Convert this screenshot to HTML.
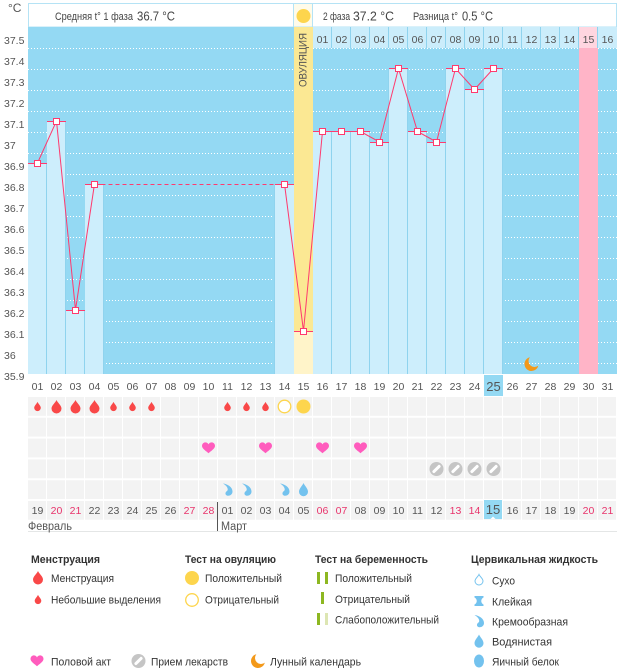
<!DOCTYPE html>
<html>
<head>
<meta charset="utf-8">
<style>
html,body{margin:0;padding:0;background:#fff;}
svg{display:block;}
</style>
</head>
<body>
<svg width="626" height="668" viewBox="0 0 626 668" xmlns="http://www.w3.org/2000/svg" xmlns:xlink="http://www.w3.org/1999/xlink" font-family="'Liberation Sans', 'DejaVu Sans', sans-serif">
<defs>
  <pattern id="cells" x="28" y="397" width="19" height="20.8" patternUnits="userSpaceOnUse">
    <rect x="0" y="0" width="18" height="18.8" fill="#f3f3f3"/>
  </pattern>
  <g id="dropB"><path d="M0,-6.5 C1,-4 5,-1 5,2 A5 5 0 0 1 -5,2 C-5,-1 -1,-4 0,-6.5Z" fill="#f94848"/></g>
  <g id="dropS"><path d="M0,-4.6 C0.7,-2.8 3.3,-0.8 3.3,1.3 A3.3 3.3 0 0 1 -3.3,1.3 C-3.3,-0.8 -0.7,-2.8 0,-4.6Z" fill="#f94848"/></g>
  <g id="heart"><path d="M0,5.2 C-2,3.4 -6.5,0.6 -6.5,-2 C-6.5,-4.5 -4.6,-5.6 -3.2,-5.6 C-1.8,-5.6 -0.6,-4.8 0,-3.6 C0.6,-4.8 1.8,-5.6 3.2,-5.6 C4.6,-5.6 6.5,-4.5 6.5,-2 C6.5,0.6 2,3.4 0,5.2Z" fill="#ff5cbd"/></g>
  <g id="pill"><circle cx="0" cy="0" r="7" fill="#c5c5c5"/><line x1="-2.6" y1="2.6" x2="2.6" y2="-2.6" stroke="#fff" stroke-width="3" stroke-linecap="round"/></g>
  <g id="cream"><path d="M-4.5,-6 C0,-5.5 5,-2.5 5,2 C5,5 2.5,6.5 0,6.2 C-2.8,5.8 -2.5,2.5 -0.5,1.5 C1,0.5 0.5,-3 -4.5,-6Z" fill="#73c2ee"/></g>
  <g id="water"><path d="M0,-6.5 C1,-4 4.5,-1 4.5,2.2 A4.5 4.5 0 0 1 -4.5,2.2 C-4.5,-1 -1,-4 0,-6.5Z" fill="#73c2ee"/></g>
  <g id="moon"><path d="M-1.639,-6.806 A7 7 0 1 0 6.806,1.639 A6 6 0 0 1 -1.639,-6.806Z" fill="#f3991a"/></g>
</defs>

<!-- top-left unit -->
<text x="8" y="12" font-size="12" fill="#555">°C</text>

<!-- header boxes -->
<rect x="28.5" y="3.5" width="265" height="23.5" fill="#fff" stroke="#b5e3f5"/>
<rect x="293.5" y="3.5" width="19" height="23.5" fill="#fffbea" stroke="#b5e3f5"/>
<rect x="312.5" y="3.5" width="304" height="23.5" fill="#fff" stroke="#b5e3f5"/>
<circle cx="303.5" cy="16" r="7" fill="#fdd54d"/>
<text x="55" y="20" font-size="11" fill="#444" textLength="78" lengthAdjust="spacingAndGlyphs">Средняя t° 1 фаза</text>
<text x="137" y="20.5" font-size="13" fill="#444" textLength="38" lengthAdjust="spacingAndGlyphs">36.7 °C</text>
<text x="323" y="20" font-size="11" fill="#444" textLength="27" lengthAdjust="spacingAndGlyphs">2 фаза</text>
<text x="353" y="20.5" font-size="13" fill="#444" textLength="41" lengthAdjust="spacingAndGlyphs">37.2 °C</text>
<text x="413" y="20" font-size="11" fill="#444" textLength="45" lengthAdjust="spacingAndGlyphs">Разница t°</text>
<text x="462" y="20.5" font-size="13" fill="#444" textLength="31" lengthAdjust="spacingAndGlyphs">0.5 °C</text>

<!-- chart background -->
<rect x="28" y="27" width="589" height="347" fill="#94d9f3"/>

<!-- gridlines -->
<g stroke="#ffffff" stroke-width="1" stroke-dasharray="1 2">
  <line x1="28" y1="48.5" x2="617" y2="48.5"/>
  <line x1="28" y1="69.5" x2="617" y2="69.5"/>
  <line x1="28" y1="90.5" x2="617" y2="90.5"/>
  <line x1="28" y1="111.5" x2="617" y2="111.5"/>
  <line x1="28" y1="132.5" x2="617" y2="132.5"/>
  <line x1="28" y1="153.5" x2="617" y2="153.5"/>
  <line x1="28" y1="174.5" x2="617" y2="174.5"/>
  <line x1="28" y1="195.5" x2="617" y2="195.5"/>
  <line x1="28" y1="216.5" x2="617" y2="216.5"/>
  <line x1="28" y1="237.5" x2="617" y2="237.5"/>
  <line x1="28" y1="258.5" x2="617" y2="258.5"/>
  <line x1="28" y1="279.5" x2="617" y2="279.5"/>
  <line x1="28" y1="300.5" x2="617" y2="300.5"/>
  <line x1="28" y1="321.5" x2="617" y2="321.5"/>
  <line x1="28" y1="342.5" x2="617" y2="342.5"/>
  <line x1="28" y1="363.5" x2="617" y2="363.5"/>
</g>

<!-- header row cells for second phase -->
<rect x="313" y="27" width="304" height="21" fill="#cbedfb"/>
<rect x="579" y="27" width="19" height="21" fill="#ffd6e0"/>
<g stroke="#8fd3ee" stroke-width="1">
  <line x1="312.5" y1="27" x2="312.5" y2="48"/>
  <line x1="331.5" y1="27" x2="331.5" y2="48"/>
  <line x1="350.5" y1="27" x2="350.5" y2="48"/>
  <line x1="369.5" y1="27" x2="369.5" y2="48"/>
  <line x1="388.5" y1="27" x2="388.5" y2="48"/>
  <line x1="407.5" y1="27" x2="407.5" y2="48"/>
  <line x1="426.5" y1="27" x2="426.5" y2="48"/>
  <line x1="445.5" y1="27" x2="445.5" y2="48"/>
  <line x1="464.5" y1="27" x2="464.5" y2="48"/>
  <line x1="483.5" y1="27" x2="483.5" y2="48"/>
  <line x1="502.5" y1="27" x2="502.5" y2="48"/>
  <line x1="521.5" y1="27" x2="521.5" y2="48"/>
  <line x1="540.5" y1="27" x2="540.5" y2="48"/>
  <line x1="559.5" y1="27" x2="559.5" y2="48"/>
  <line x1="578.5" y1="27" x2="578.5" y2="48"/>
  <line x1="597.5" y1="27" x2="597.5" y2="48"/>
</g>

<!-- pink column -->
<rect x="579" y="48" width="19" height="326" fill="#ffb4c7"/>

<!-- bars -->
<g fill="#cdeefc">
  <rect x="28" y="163" width="19" height="211"/>
  <rect x="47" y="121" width="19" height="253"/>
  <rect x="66" y="310" width="19" height="64"/>
  <rect x="85" y="184" width="19" height="190"/>
  <rect x="275" y="184" width="19" height="190"/>
  <rect x="313" y="131.5" width="19" height="242.5"/>
  <rect x="332" y="131.5" width="19" height="242.5"/>
  <rect x="351" y="131.5" width="19" height="242.5"/>
  <rect x="370" y="142" width="19" height="232"/>
  <rect x="389" y="68.5" width="19" height="305.5"/>
  <rect x="408" y="131.5" width="19" height="242.5"/>
  <rect x="427" y="142" width="19" height="232"/>
  <rect x="446" y="68.5" width="19" height="305.5"/>
  <rect x="465" y="89.5" width="19" height="284.5"/>
  <rect x="484" y="68.5" width="19" height="305.5"/>
</g>
<g stroke="#8fd3ee" stroke-width="1">
  <line x1="46.5" y1="163" x2="46.5" y2="374"/>
  <line x1="65.5" y1="121" x2="65.5" y2="374"/>
  <line x1="84.5" y1="310" x2="84.5" y2="374"/>
  <line x1="103.5" y1="184" x2="103.5" y2="374"/>
  <line x1="274.5" y1="184" x2="274.5" y2="374"/>
  <line x1="312.5" y1="48" x2="312.5" y2="374"/>
  <line x1="331.5" y1="131.5" x2="331.5" y2="374"/>
  <line x1="350.5" y1="131.5" x2="350.5" y2="374"/>
  <line x1="369.5" y1="131.5" x2="369.5" y2="374"/>
  <line x1="388.5" y1="68.5" x2="388.5" y2="374"/>
  <line x1="407.5" y1="68.5" x2="407.5" y2="374"/>
  <line x1="426.5" y1="131.5" x2="426.5" y2="374"/>
  <line x1="445.5" y1="68.5" x2="445.5" y2="374"/>
  <line x1="464.5" y1="68.5" x2="464.5" y2="374"/>
  <line x1="483.5" y1="68.5" x2="483.5" y2="374"/>
  <line x1="502.5" y1="68.5" x2="502.5" y2="374"/>
</g>

<!-- ovulation column -->
<rect x="294" y="27" width="19" height="304" fill="#fbe893"/>
<rect x="294" y="331" width="19" height="43" fill="#fff4c9"/>
<text transform="translate(306.5,60) rotate(-90)" text-anchor="middle" font-size="11" fill="#555" textLength="54" lengthAdjust="spacingAndGlyphs">ОВУЛЯЦИЯ</text>

<!-- top cycle day numbers -->
<g font-size="10.5" fill="#555" text-anchor="middle">
  <text x="322.5" y="43">01</text><text x="341.5" y="43">02</text><text x="360.5" y="43">03</text><text x="379.5" y="43">04</text>
  <text x="398.5" y="43">05</text><text x="417.5" y="43">06</text><text x="436.5" y="43">07</text><text x="455.5" y="43">08</text>
  <text x="474.5" y="43">09</text><text x="493.5" y="43">10</text><text x="512.5" y="43">11</text><text x="531.5" y="43">12</text>
  <text x="550.5" y="43">13</text><text x="569.5" y="43">14</text><text x="588.5" y="43">15</text><text x="607.5" y="43">16</text>
</g>

<!-- temperature line -->
<g stroke="#ff3a6e" stroke-width="1" fill="none">
  <polyline points="37.5,163 56.5,121 75.5,310 94.5,184"/>
  <line x1="94.5" y1="184.5" x2="284.5" y2="184.5" stroke-dasharray="4 3"/>
  <polyline points="284.5,184 303.5,331 322.5,131.5 341.5,131.5 360.5,131.5 379.5,142 398.5,68.5 417.5,131.5 436.5,142 455.5,68.5 474.5,89.5 493.5,68.5"/>
  <line x1="28" y1="163.5" x2="47" y2="163.5"/>
  <line x1="47" y1="121.5" x2="66" y2="121.5"/>
  <line x1="66" y1="310.5" x2="85" y2="310.5"/>
  <line x1="85" y1="184.5" x2="104" y2="184.5"/>
  <line x1="275" y1="184.5" x2="294" y2="184.5"/>
  <line x1="294" y1="331.5" x2="313" y2="331.5"/>
  <line x1="313" y1="131.5" x2="370" y2="131.5"/>
  <line x1="370" y1="142.5" x2="389" y2="142.5"/>
  <line x1="389" y1="68.5" x2="408" y2="68.5"/>
  <line x1="408" y1="131.5" x2="427" y2="131.5"/>
  <line x1="427" y1="142.5" x2="446" y2="142.5"/>
  <line x1="446" y1="68.5" x2="465" y2="68.5"/>
  <line x1="465" y1="89.5" x2="484" y2="89.5"/>
  <line x1="484" y1="68.5" x2="503" y2="68.5"/>
</g>
<g fill="#fff" stroke="#ff3a6e" stroke-width="1">
  <rect x="34.5" y="160.5" width="6" height="6"/>
  <rect x="53.5" y="118.5" width="6" height="6"/>
  <rect x="72.5" y="307.5" width="6" height="6"/>
  <rect x="91.5" y="181.5" width="6" height="6"/>
  <rect x="281.5" y="181.5" width="6" height="6"/>
  <rect x="300.5" y="328.5" width="6" height="6"/>
  <rect x="319.5" y="128.5" width="6" height="6"/>
  <rect x="338.5" y="128.5" width="6" height="6"/>
  <rect x="357.5" y="128.5" width="6" height="6"/>
  <rect x="376.5" y="139.5" width="6" height="6"/>
  <rect x="395.5" y="65.5" width="6" height="6"/>
  <rect x="414.5" y="128.5" width="6" height="6"/>
  <rect x="433.5" y="139.5" width="6" height="6"/>
  <rect x="452.5" y="65.5" width="6" height="6"/>
  <rect x="471.5" y="86.5" width="6" height="6"/>
  <rect x="490.5" y="65.5" width="6" height="6"/>
</g>

<!-- moon in chart -->
<use href="#moon" xlink:href="#moon" x="531.5" y="364"/>

<!-- y labels -->
<g font-size="10.5" fill="#555">
  <text x="4" y="44">37.5</text><text x="4" y="65">37.4</text><text x="4" y="86">37.3</text>
  <text x="4" y="107">37.2</text><text x="4" y="128">37.1</text><text x="4" y="149">37</text>
  <text x="4" y="170">36.9</text><text x="4" y="191">36.8</text><text x="4" y="212">36.7</text>
  <text x="4" y="233">36.6</text><text x="4" y="254">36.5</text><text x="4" y="275">36.4</text>
  <text x="4" y="296">36.3</text><text x="4" y="317">36.2</text><text x="4" y="338">36.1</text>
  <text x="4" y="359">36</text><text x="4" y="380">35.9</text>
</g>

<!-- bottom day labels -->
<rect x="484" y="375" width="19" height="21" fill="#94d9f3"/>
<g font-size="10.5" fill="#555" text-anchor="middle">
  <text x="37.5" y="390">01</text><text x="56.5" y="390">02</text><text x="75.5" y="390">03</text><text x="94.5" y="390">04</text>
  <text x="113.5" y="390">05</text><text x="132.5" y="390">06</text><text x="151.5" y="390">07</text><text x="170.5" y="390">08</text>
  <text x="189.5" y="390">09</text><text x="208.5" y="390">10</text><text x="227.5" y="390">11</text><text x="246.5" y="390">12</text>
  <text x="265.5" y="390">13</text><text x="284.5" y="390">14</text><text x="303.5" y="390">15</text><text x="322.5" y="390">16</text>
  <text x="341.5" y="390">17</text><text x="360.5" y="390">18</text><text x="379.5" y="390">19</text><text x="398.5" y="390">20</text>
  <text x="417.5" y="390">21</text><text x="436.5" y="390">22</text><text x="455.5" y="390">23</text><text x="474.5" y="390">24</text>
  <text x="493.5" y="391" font-size="13">25</text><text x="512.5" y="390">26</text><text x="531.5" y="390">27</text><text x="550.5" y="390">28</text>
  <text x="569.5" y="390">29</text><text x="588.5" y="390">30</text><text x="607.5" y="390">31</text>
</g>

<!-- symbol grid -->
<rect x="28" y="397" width="589" height="122.8" fill="url(#cells)"/>

<!-- row 0: menstruation / ovulation test -->
<use href="#dropS" xlink:href="#dropS" x="37.5" y="406.5"/>
<use href="#dropB" xlink:href="#dropB" x="56.5" y="406.5"/>
<use href="#dropB" xlink:href="#dropB" x="75.5" y="406.5"/>
<use href="#dropB" xlink:href="#dropB" x="94.5" y="406.5"/>
<use href="#dropS" xlink:href="#dropS" x="113.5" y="406.5"/>
<use href="#dropS" xlink:href="#dropS" x="132.5" y="406.5"/>
<use href="#dropS" xlink:href="#dropS" x="151.5" y="406.5"/>
<use href="#dropS" xlink:href="#dropS" x="227.5" y="406.5"/>
<use href="#dropS" xlink:href="#dropS" x="246.5" y="406.5"/>
<use href="#dropS" xlink:href="#dropS" x="265.5" y="406.5"/>
<circle cx="284.5" cy="406.5" r="6.3" fill="#fff" stroke="#fdd54d" stroke-width="1.3"/>
<circle cx="303.5" cy="406.5" r="7" fill="#fdd54d"/>

<!-- row 2: hearts -->
<use href="#heart" xlink:href="#heart" x="208.5" y="448"/>
<use href="#heart" xlink:href="#heart" x="265.5" y="448"/>
<use href="#heart" xlink:href="#heart" x="322.5" y="448"/>
<use href="#heart" xlink:href="#heart" x="360.5" y="448"/>

<!-- row 3: pills -->
<use href="#pill" xlink:href="#pill" x="436.5" y="469"/>
<use href="#pill" xlink:href="#pill" x="455.5" y="469"/>
<use href="#pill" xlink:href="#pill" x="474.5" y="469"/>
<use href="#pill" xlink:href="#pill" x="493.5" y="469"/>

<!-- row 4: cervical fluid -->
<use href="#cream" xlink:href="#cream" x="227.5" y="489.5"/>
<use href="#cream" xlink:href="#cream" x="246.5" y="489.5"/>
<use href="#cream" xlink:href="#cream" x="284.5" y="489.5"/>
<use href="#water" xlink:href="#water" x="303.5" y="489.5"/>

<!-- row 5: dates -->
<rect x="484" y="500" width="18" height="19" fill="#94d9f3"/>
<path d="M490.5,519 L493,516.5 L495.5,519Z" fill="#ffffff"/>
<g font-size="10.5" fill="#555" text-anchor="middle">
  <text x="37.5" y="514">19</text><text x="56.5" y="514" fill="#e8336b">20</text><text x="75.5" y="514" fill="#e8336b">21</text>
  <text x="94.5" y="514">22</text><text x="113.5" y="514">23</text><text x="132.5" y="514">24</text><text x="151.5" y="514">25</text>
  <text x="170.5" y="514">26</text><text x="189.5" y="514" fill="#e8336b">27</text><text x="208.5" y="514" fill="#e8336b">28</text>
  <text x="227.5" y="514">01</text><text x="246.5" y="514">02</text><text x="265.5" y="514">03</text><text x="284.5" y="514">04</text>
  <text x="303.5" y="514">05</text><text x="322.5" y="514" fill="#e8336b">06</text><text x="341.5" y="514" fill="#e8336b">07</text>
  <text x="360.5" y="514">08</text><text x="379.5" y="514">09</text><text x="398.5" y="514">10</text><text x="417.5" y="514">11</text>
  <text x="436.5" y="514">12</text><text x="455.5" y="514" fill="#e8336b">13</text><text x="474.5" y="514" fill="#e8336b">14</text>
  <text x="493" y="514" font-size="13">15</text><text x="512.5" y="514">16</text><text x="531.5" y="514">17</text>
  <text x="550.5" y="514">18</text><text x="569.5" y="514">19</text><text x="588.5" y="514" fill="#e8336b">20</text><text x="607.5" y="514" fill="#e8336b">21</text>
</g>

<!-- months -->
<line x1="217.5" y1="502" x2="217.5" y2="531" stroke="#555" stroke-width="1"/>
<line x1="28" y1="531.5" x2="617" y2="531.5" stroke="#e4e6e6" stroke-width="1"/>
<text x="28" y="530" font-size="11.5" fill="#555" textLength="44" lengthAdjust="spacingAndGlyphs">Февраль</text>
<text x="221" y="530" font-size="11.5" fill="#555" textLength="26" lengthAdjust="spacingAndGlyphs">Март</text>

<!-- legend headings -->
<g font-size="11" font-weight="bold" fill="#333">
  <text x="31" y="563" textLength="69" lengthAdjust="spacingAndGlyphs">Менструация</text>
  <text x="185" y="563" textLength="91" lengthAdjust="spacingAndGlyphs">Тест на овуляцию</text>
  <text x="315" y="563" textLength="113" lengthAdjust="spacingAndGlyphs">Тест на беременность</text>
  <text x="471" y="563" textLength="127" lengthAdjust="spacingAndGlyphs">Цервикальная жидкость</text>
</g>

<!-- legend items -->
<g font-size="11" fill="#333">
  <text x="51" y="582" textLength="63" lengthAdjust="spacingAndGlyphs">Менструация</text>
  <text x="51" y="603.5" textLength="110" lengthAdjust="spacingAndGlyphs">Небольшие выделения</text>
  <text x="205" y="582" textLength="77" lengthAdjust="spacingAndGlyphs">Положительный</text>
  <text x="205" y="603.5" textLength="74" lengthAdjust="spacingAndGlyphs">Отрицательный</text>
  <text x="335" y="582" textLength="77" lengthAdjust="spacingAndGlyphs">Положительный</text>
  <text x="335" y="603" textLength="75" lengthAdjust="spacingAndGlyphs">Отрицательный</text>
  <text x="335" y="623.5" textLength="104" lengthAdjust="spacingAndGlyphs">Слабоположительный</text>
  <text x="492" y="584.5" textLength="23" lengthAdjust="spacingAndGlyphs">Сухо</text>
  <text x="492" y="605.5" textLength="40" lengthAdjust="spacingAndGlyphs">Клейкая</text>
  <text x="492" y="625.5" textLength="76" lengthAdjust="spacingAndGlyphs">Кремообразная</text>
  <text x="492" y="645.5" textLength="60" lengthAdjust="spacingAndGlyphs">Водянистая</text>
  <text x="492" y="665.5" textLength="67" lengthAdjust="spacingAndGlyphs">Яичный белок</text>
  <text x="51" y="665.5" textLength="60" lengthAdjust="spacingAndGlyphs">Половой акт</text>
  <text x="151" y="665.5" textLength="77" lengthAdjust="spacingAndGlyphs">Прием лекарств</text>
  <text x="270" y="665.5" textLength="91" lengthAdjust="spacingAndGlyphs">Лунный календарь</text>
</g>

<!-- legend icons -->
<use href="#dropB" xlink:href="#dropB" x="38" y="577.5"/>
<use href="#dropS" xlink:href="#dropS" x="38" y="599.5"/>
<circle cx="192" cy="578" r="7" fill="#fdd54d"/>
<circle cx="192" cy="600" r="6.3" fill="#fff" stroke="#fdd54d" stroke-width="1.3"/>
<rect x="317" y="572" width="3" height="12" fill="#8db721"/>
<rect x="325" y="572" width="3" height="12" fill="#8db721"/>
<rect x="321" y="592" width="3" height="12" fill="#8db721"/>
<rect x="317" y="613" width="3" height="12" fill="#8db721"/>
<rect x="325" y="613" width="3" height="12" fill="#dde6b3"/>
<!-- cervical legend icons -->
<path d="M479,574.5 C479.8,576.5 483,578.5 483,581 A4 4 0 0 1 475,581 C475,578.5 478.2,576.5 479,574.5Z" fill="#fff" stroke="#73c2ee" stroke-width="1"/>
<path d="M474.5,596 H483.5 V597.5 C480.5,599 480.5,603 483.5,604.5 V606 H474.5 V604.5 C477.5,603 477.5,599 474.5,597.5Z" fill="#73c2ee"/>
<use href="#cream" xlink:href="#cream" x="479" y="621"/>
<use href="#water" xlink:href="#water" x="479" y="641"/>
<ellipse cx="479" cy="661" rx="5" ry="6.5" fill="#73c2ee"/>
<use href="#heart" xlink:href="#heart" x="37" y="661"/>
<use href="#pill" xlink:href="#pill" x="138.5" y="661"/>
<use href="#moon" xlink:href="#moon" x="258" y="661"/>
</svg>
</body>
</html>
